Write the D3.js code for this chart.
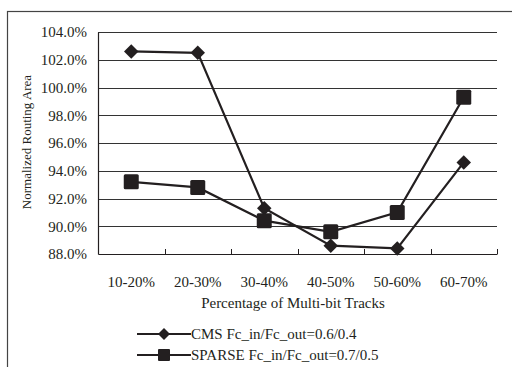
<!DOCTYPE html>
<html>
<head>
<meta charset="utf-8">
<script src="https://cdn.jsdelivr.net/npm/d3@7"></script>
<style>
  body { margin: 0; background: #fff; }
  svg { display: block; font-family: "Liberation Serif", "Times New Roman", serif; }
</style>
</head>
<body>
<div id="chart"></div>
<script>
// Data
const categories = ["10-20%", "20-30%", "30-40%", "40-50%", "50-60%", "60-70%"];
const cmsValues = [102.6, 102.5, 91.3, 88.6, 88.4, 94.6];
const sparseValues = [93.2, 92.8, 90.4, 89.6, 91.0, 99.3];
const yTicks = [88, 90, 92, 94, 96, 98, 100, 102, 104];
const seriesNames = ["CMS Fc_in/Fc_out=0.6/0.4", "SPARSE Fc_in/Fc_out=0.7/0.5"];

const W = 512, H = 367;
const margin = { top: 32, right: 15, bottom: 113, left: 98 };
const width = W - margin.left - margin.right;
const height = H - margin.top - margin.bottom;
const ink = "#231f20";
const fontSize = 15;

const svg = d3.select("#chart").append("svg")
    .attr("width", W)
    .attr("height", H);

// outer frame
svg.append("rect")
    .attr("x", 7.5).attr("y", 11.5)
    .attr("width", W + 10).attr("height", H + 10)
    .attr("fill", "none")
    .attr("stroke", "#444")
    .attr("stroke-width", 1.2);

const g = svg.append("g")
    .attr("transform", `translate(${margin.left},${margin.top})`);

const x = d3.scaleBand().domain(categories).range([0, width]);
const y = d3.scaleLinear().domain([88, 104]).range([height, 0]);

// gridlines
g.append("g")
    .selectAll("line")
    .data(yTicks.slice(1))
    .join("line")
    .attr("x1", 0).attr("x2", width)
    .attr("y1", d => Math.round(y(d)) + 0.5)
    .attr("y2", d => Math.round(y(d)) + 0.5)
    .attr("stroke", "#333")
    .attr("stroke-width", 1);

// y axis
const yAxis = g.append("g")
    .call(d3.axisLeft(y).tickValues(yTicks).tickSize(0).tickPadding(11)
        .tickFormat(d => d.toFixed(1) + "%"));
yAxis.select(".domain").attr("stroke", ink).attr("stroke-width", 1.2);
yAxis.selectAll("text").attr("font-size", fontSize).attr("fill", ink)
    .attr("font-family", "Liberation Serif, serif");

// x axis with ticks pointing inward
const xAxis = g.append("g")
    .attr("transform", `translate(0,${height})`)
    .call(d3.axisBottom(x).tickSize(0).tickPadding(22));
xAxis.select(".domain").attr("stroke", ink).attr("stroke-width", 1.2);
xAxis.selectAll("text").attr("font-size", fontSize).attr("fill", ink)
    .attr("font-family", "Liberation Serif, serif");

g.append("g")
    .selectAll("line")
    .data(d3.range(categories.length + 1))
    .join("line")
    .attr("x1", i => Math.round(i * x.bandwidth()) + 0.5)
    .attr("x2", i => Math.round(i * x.bandwidth()) + 0.5)
    .attr("y1", height).attr("y2", height - 5)
    .attr("stroke", ink);

// axis titles
svg.append("text")
    .attr("x", 293).attr("y", 308)
    .attr("text-anchor", "middle")
    .attr("font-size", fontSize)
    .attr("fill", ink)
    .text("Percentage of Multi-bit Tracks");

svg.append("text")
    .attr("transform", "rotate(-90)")
    .attr("x", -142).attr("y", 31)
    .attr("text-anchor", "middle")
    .attr("font-size", 13)
    .attr("fill", ink)
    .text("Normalized Routing Area");

// lines and markers
const line = d3.line()
    .x((d, i) => x(categories[i]) + x.bandwidth() / 2)
    .y(d => y(d));

const diamond = d3.symbol().type(d3.symbolSquare).size(105);
const smallDiamond = d3.symbol().type(d3.symbolSquare).size(72);

function drawSeries(values, shape) {
    g.append("path")
        .datum(values)
        .attr("d", line)
        .attr("fill", "none")
        .attr("stroke", ink)
        .attr("stroke-width", 2.2);

    const pts = g.append("g")
        .selectAll("g")
        .data(values)
        .join("g")
        .attr("transform", (d, i) => `translate(${x(categories[i]) + x.bandwidth() / 2},${y(d)})`);

    if (shape === "diamond") {
        pts.append("path")
            .attr("d", diamond)
            .attr("transform", "rotate(45)")
            .attr("fill", ink);
    } else {
        pts.append("rect")
            .attr("x", -7.5).attr("y", -7.5)
            .attr("width", 15).attr("height", 15)
            .attr("rx", 1.5)
            .attr("fill", ink);
    }
}

drawSeries(cmsValues, "diamond");
drawSeries(sparseValues, "square");

// legend
const legend = svg.append("g");
const legendRows = [
    { name: seriesNames[0], shape: "diamond", y: 334 },
    { name: seriesNames[1], shape: "square", y: 355 }
];
legendRows.forEach(r => {
    legend.append("line")
        .attr("x1", 137).attr("x2", 191)
        .attr("y1", r.y).attr("y2", r.y)
        .attr("stroke", ink).attr("stroke-width", 2.2);
    if (r.shape === "diamond") {
        legend.append("path")
            .attr("d", smallDiamond)
            .attr("transform", `translate(164,${r.y}) rotate(45)`)
            .attr("fill", ink);
    } else {
        legend.append("rect")
            .attr("x", 158).attr("y", r.y - 6)
            .attr("width", 12).attr("height", 12)
            .attr("rx", 1)
            .attr("fill", ink);
    }
    legend.append("text")
        .attr("x", 191).attr("y", r.y + 5)
        .attr("font-size", fontSize)
        .attr("fill", ink)
        .text(r.name);
});
</script>
</body>
</html>
